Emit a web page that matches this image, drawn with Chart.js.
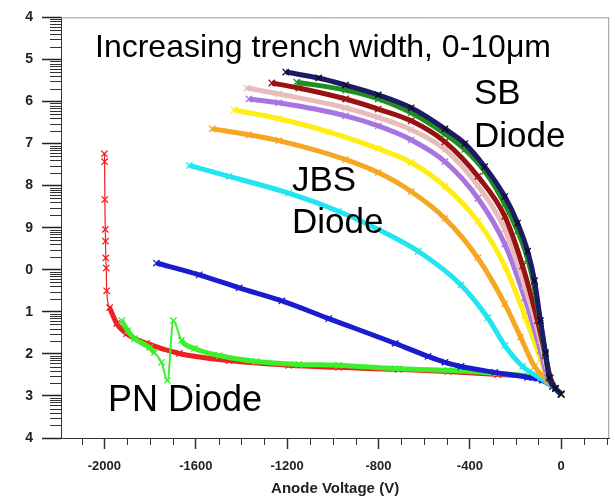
<!DOCTYPE html>
<html><head><meta charset="utf-8">
<script src="https://cdn.jsdelivr.net/npm/chart.js@4.4.1/dist/chart.umd.min.js"></script>
<style>html,body{margin:0;padding:0;background:#fff}#wrap{width:615px;height:496px}</style>
</head><body><div id="wrap"><canvas id="c" width="615" height="496"></canvas></div>
<script>
// ---- data: [anode voltage (V), log10 current exponent] ----
const xMajorTicks = [-2000, -1600, -1200, -800, -400, 0];
const yMajorTicks = [-14, -13, -12, -11, -10, -9, -8, -7, -6, -5, -4];
const yTickLabels = ['4', '3', '2', '1', '0', '9', '8', '7', '6', '5', '4'];

const w0 = [[-1206,-5.30],[-1062,-5.44],[-944,-5.61],[-801,-5.84],[-657,-6.15],[-509,-6.65],[-422,-7.00],[-335,-7.55],[-247,-8.26],[-191,-8.89],[-147,-9.56],[-117,-10.26],[-91,-11.21],[-69,-11.97],[-52,-12.56],[-25,-12.82],[0,-12.96]];
const w1 = [[-1158,-5.54],[-944,-5.73],[-801,-5.94],[-657,-6.27],[-509,-6.77],[-422,-7.14],[-335,-7.66],[-247,-8.44],[-191,-9.08],[-147,-9.74],[-117,-10.42],[-91,-11.28],[-69,-12.01],[-52,-12.58],[-25,-12.82],[0,-12.96]];
const w2 = [[-1267,-5.56],[-1149,-5.68],[-944,-5.94],[-801,-6.18],[-657,-6.46],[-509,-6.96],[-365,-7.78],[-247,-8.73],[-169,-9.91],[-104,-11.21],[-69,-12.04],[-47,-12.58],[-25,-12.82],[0,-12.96]];
const w3 = [[-1376,-5.68],[-1236,-5.82],[-944,-6.15],[-801,-6.38],[-657,-6.67],[-509,-7.14],[-365,-8.00],[-247,-9.04],[-160,-10.38],[-91,-11.68],[-60,-12.39],[-25,-12.82],[0,-12.96]];
const w4 = [[-1367,-5.94],[-1236,-6.03],[-944,-6.34],[-801,-6.58],[-657,-6.91],[-509,-7.43],[-365,-8.30],[-247,-9.39],[-160,-10.67],[-91,-11.92],[-60,-12.56],[-25,-12.82],[0,-12.96]];
const w5 = [[-1432,-6.20],[-1236,-6.41],[-1018,-6.72],[-801,-7.12],[-657,-7.45],[-509,-8.02],[-365,-8.85],[-247,-9.91],[-160,-11.09],[-91,-12.11],[-60,-12.56],[-25,-12.82],[0,-12.96]];
const w6 = [[-1528,-6.65],[-1367,-6.79],[-1236,-6.93],[-944,-7.38],[-801,-7.69],[-657,-8.14],[-509,-8.78],[-365,-9.72],[-247,-10.81],[-178,-11.60],[-117,-12.30],[-60,-12.63],[-25,-12.82],[0,-12.96]];
const w7 = [[-1628,-7.52],[-1454,-7.78],[-1193,-8.18],[-975,-8.61],[-801,-9.04],[-626,-9.56],[-439,-10.36],[-322,-11.14],[-247,-11.80],[-169,-12.30],[-91,-12.58],[-25,-12.82],[0,-12.96]];
const w8 = [[-1772,-9.84],[-1585,-10.12],[-1410,-10.43],[-1223,-10.74],[-1018,-11.16],[-727,-11.75],[-583,-12.06],[-509,-12.20],[-439,-12.30],[-291,-12.44],[-147,-12.56],[-82,-12.63],[-38,-12.77],[0,-12.96]];
const w9 = [[-1924,-11.21],[-1898,-11.45],[-1868,-11.64],[-1802,-11.85],[-1781,-11.97],[-1750,-12.20],[-1724,-12.63],[-1698,-11.21],[-1663,-11.68],[-1606,-11.87],[-1497,-12.04],[-1336,-12.18],[-1149,-12.25],[-975,-12.27],[-727,-12.35],[-496,-12.39],[-291,-12.46],[-104,-12.58],[-38,-12.77],[0,-12.96]];
const w10 = [[-2000,-7.24],[-1999,-7.43],[-1998,-8.33],[-1996,-9.04],[-1995,-9.32],[-1994,-9.72],[-1992,-9.96],[-1990,-10.50],[-1977,-10.90],[-1946,-11.28],[-1903,-11.52],[-1815,-11.75],[-1672,-11.99],[-1454,-12.16],[-1193,-12.27],[-975,-12.32],[-713,-12.37],[-496,-12.42],[-278,-12.49],[-104,-12.58],[-38,-12.77],[0,-12.96]];

const seriesList = [w0, w1, w2, w3, w4, w5, w6, w7, w8, w9, w10];
const seriesNames = ['0 µm', '1 µm', '2 µm', '3 µm', '4 µm', '5 µm', '6 µm', '7 µm', '8 µm', '9 µm', '10 µm'];
const seriesColors = ['#1b1b66', '#1f8f1f', '#9a1111', '#e9bcbc', '#a875e0', '#ffee11', '#f5a623', '#22e5f2', '#1c1ccf', '#3bef2b', '#ee2020'];

const FONT = '"Liberation Sans", Arial, sans-serif';

const datasets = seriesList.map((s, i) => {
  const isRed = i === 10, isGreen = i === 9;
  let segment;
  if (isRed) segment = { borderWidth: c => (c.p0.parsed.x < -1985 ? 1.2 : 5) };
  if (isGreen) segment = { borderWidth: c => (c.p0.parsed.x > -1790 && c.p0.parsed.x < -1690 ? 2 : 5) };
  return {
    label: seriesNames[i],
    data: s.map(p => ({ x: p[0], y: p[1] })),
    showLine: true,
    borderColor: seriesColors[i],
    backgroundColor: seriesColors[i],
    borderWidth: 5,
    cubicInterpolationMode: 'monotone',
    pointStyle: 'crossRot',
    pointRadius: 4.5,
    pointBorderWidth: 1.3,
    pointBorderColor: i === 0 ? '#0c0c2a' : seriesColors[i],
    segment
  };
});

const notes = [
  { t: 'Increasing trench width, 0-10μm', x: 95, y: 57, s: 32 },
  { t: 'SB', x: 474, y: 104, s: 35 },
  { t: 'Diode', x: 474, y: 147, s: 35 },
  { t: 'JBS', x: 292, y: 191, s: 35 },
  { t: 'Diode', x: 292, y: 233, s: 35 },
  { t: 'PN Diode', x: 108, y: 411, s: 36 }
];

const decorPlugin = {
  id: 'decor',
  beforeDatasetsDraw(chart) {
    const { ctx, chartArea: a } = chart;
    ctx.save();
    ctx.strokeStyle = '#999';
    ctx.lineWidth = 1;
    ctx.beginPath();
    ctx.moveTo(a.left, a.top + 0.5); ctx.lineTo(a.right, a.top + 0.5);
    ctx.moveTo(a.right - 0.5, a.top); ctx.lineTo(a.right - 0.5, a.bottom);
    ctx.stroke();
    // minor ticks
    const ys = chart.scales.y, xs = chart.scales.x;
    ctx.strokeStyle = '#333';
    ctx.lineWidth = 1;
    ctx.beginPath();
    for (let d = -14; d < -4; d++) {
      for (let k = 2; k <= 9; k++) {
        const py = Math.round(ys.getPixelForValue(d + Math.log10(k))) + 0.5;
        ctx.moveTo(a.left - 11, py); ctx.lineTo(a.left, py);
      }
    }
    for (let v = -2100; v <= 200; v += 100) {
      if (v % 400 === 0) continue;
      const px = Math.round(xs.getPixelForValue(v)) + 0.5;
      ctx.moveTo(px, a.bottom); ctx.lineTo(px, a.bottom + 7);
    }
    ctx.stroke();
    ctx.restore();
  },
  afterDatasetsDraw(chart) {
    const { ctx } = chart;
    ctx.save();
    ctx.fillStyle = '#000';
    ctx.textAlign = 'left';
    ctx.textBaseline = 'alphabetic';
    notes.forEach(n => {
      ctx.font = n.s + 'px ' + FONT;
      ctx.fillText(n.t, n.x, n.y);
    });
    ctx.restore();
  }
};

new Chart(document.getElementById('c'), {
  type: 'scatter',
  data: { datasets },
  options: {
    responsive: false,
    animation: false,
    devicePixelRatio: 1,
    layout: { padding: { top: 15, right: 3, left: 0, bottom: 0 } },
    plugins: { legend: { display: false }, tooltip: { enabled: false } },
    scales: {
      x: {
        type: 'linear',
        min: -2190, max: 210,
        afterBuildTicks: s => { s.ticks = xMajorTicks.map(v => ({ value: v })); },
        afterFit: s => { s.height = 58; },
        ticks: { callback: v => String(v), font: { family: FONT, size: 13, weight: 'bold' }, color: '#222', padding: 10, maxRotation: 0, autoSkip: false },
        grid: { drawOnChartArea: false, drawTicks: true, tickLength: 11, tickColor: '#333', tickWidth: 1.5 },
        border: { display: true, color: '#333', width: 1 },
        title: { display: true, text: 'Anode Voltage (V)', font: { family: FONT, size: 15, weight: 'bold', lineHeight: 1 }, color: '#222', padding: 0 }
      },
      y: {
        type: 'linear',
        min: -14, max: -4,
        afterBuildTicks: s => { s.ticks = yMajorTicks.map(v => ({ value: v })); },
        afterFit: s => { s.width = 61; },
        ticks: { callback: (v, i) => yTickLabels[i], font: { family: FONT, size: 14, weight: 'bold' }, color: '#222', padding: 9, autoSkip: false },
        grid: { drawOnChartArea: false, drawTicks: true, tickLength: 19, tickColor: '#222', tickWidth: 1.5 },
        border: { display: true, color: '#333', width: 1 }
      }
    }
  },
  plugins: [decorPlugin]
});
</script>
</body></html>
